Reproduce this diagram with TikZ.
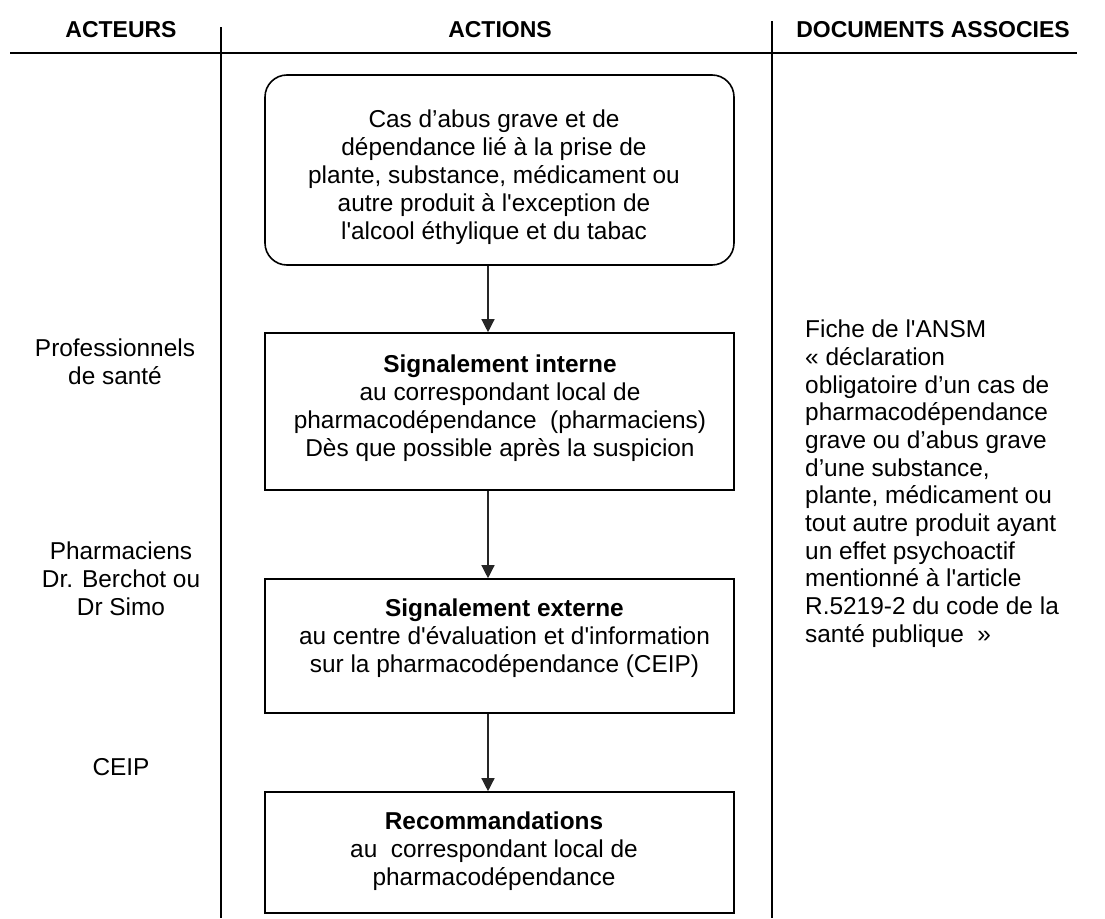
\documentclass[tikz,border=0pt]{standalone}
\usepackage{fontspec}
\setmainfont{Liberation Sans}
\usetikzlibrary{arrows.meta}
\begin{document}
\begin{tikzpicture}[x=1pt,y=-1pt,
  txt/.style={font=\fontsize{24.4}{28}\selectfont, align=center, inner sep=0pt},
  doc/.style={font=\fontsize{24.4}{27.7}\selectfont, align=left, inner sep=0pt, anchor=west},
  head/.style={font=\fontsize{23}{27}\selectfont\bfseries, inner sep=0pt},
  flowbox/.style={draw, line width=1.6pt, minimum width=469pt, inner sep=0pt},
  roundbox/.style={flowbox, rounded corners=22pt},
  arr/.style={line width=1.3pt, black!85, -{Triangle[length=13pt,width=13pt]}},
  rule/.style={line width=1.3pt},
  toprule/.style={line width=2pt}]
\useasboundingbox (0,0) rectangle (1105,918);

% column headings
\node[head] (hA) at (121,30) {ACTEURS};
\node[head] (hB) at (500,30) {ACTIONS};
\node[head] (hC) at (933,30) {DOCUMENTS ASSOCIES};

% table rules
\coordinate (ruleL) at (10,53);
\coordinate (ruleR) at (1077,53);
\draw[toprule] (ruleL) -- (ruleR);
\coordinate (sep1top) at (221,27);
\coordinate (sep1bot) at (221,918);
\coordinate (sep2top) at (772,21);
\coordinate (sep2bot) at (772,918);
\draw[rule] (sep1top) -- (sep1bot);
\draw[rule] (sep2top) -- (sep2bot);

% flow boxes
\node[roundbox, minimum height=190pt] (b1) at (499.5,170) {};
\node[flowbox, minimum height=157pt] (b2) at (499.5,411.5) {};
\node[flowbox, minimum height=134pt] (b3) at (499.5,646) {};
\node[flowbox, minimum height=121pt] (b4) at (499.5,852.5) {};

% box texts
\node[txt] (t1) at (494,177.5) {\strut Cas d’abus grave et de\\dépendance lié à la prise de\\plante, substance, médicament ou\\autre produit à l\textquotesingle exception de\\l\textquotesingle alcool éthylique et du tabac\strut};
\node[txt] (t2) at (500,408.5) {\strut\textbf{Signalement interne}\\au correspondant local de\\pharmacodépendance\ \ (pharmaciens)\\Dès que possible après la suspicion\strut};
\node[txt] (t3) at (504.5,639) {\strut\textbf{Signalement externe}\\au centre d\textquotesingle évaluation et d\textquotesingle information\\sur la pharmacodépendance (CEIP)\strut};
\node[txt] (t4) at (494,851.5) {\strut\textbf{Recommandations}\\au\ \ correspondant local de\\pharmacodépendance\strut};

% connectors
\coordinate (ax) at (488,0);
\draw[arr] (b1.south -| ax) -- (b2.north -| ax);
\draw[arr] (b2.south -| ax) -- (b3.north -| ax);
\draw[arr] (b3.south -| ax) -- (b4.north -| ax);

% actors
\node[txt] (a1) at (115,365) {\strut Professionnels\\de santé\strut};
\node[txt] (a2) at (121,581.5) {\strut Pharmaciens\\Dr. Berchot ou\\Dr Simo\strut};
\node[txt] (a3) at (121,770) {\strut CEIP\strut};

% associated document
\node[doc] (d1) at (805,484.5) {\strut Fiche de l\textquotesingle ANSM\\« déclaration\\obligatoire d’un cas de\\pharmacodépendance\\grave ou d’abus grave\\d’une substance,\\plante, médicament ou\\tout autre produit ayant\\un effet psychoactif\\mentionné à l\textquotesingle article\\R.5219-2 du code de la\\santé publique\ \ »\strut};
\end{tikzpicture}
\end{document}
